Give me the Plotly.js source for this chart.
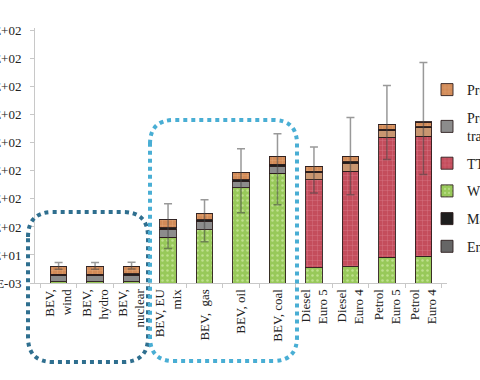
<!DOCTYPE html>
<html>
<head>
<meta charset="utf-8">
<script src="https://cdn.plot.ly/plotly-3.0.1.min.js"></script>
<style>html,body{margin:0;padding:0;background:#fff;}#chart{width:480px;height:380px;}</style>
</head>
<body>
<div id="chart"></div>
<script>
// ---- data ----
const categories = ['BEV wind', 'BEV hydro', 'BEV nuclear', 'BEV EU mix', 'BEV gas', 'BEV oil', 'BEV coal',
  'Diesel Euro 5', 'Diesel Euro 4', 'Petrol Euro 5', 'Petrol Euro 4'];
const tickLabels = ['BEV,<br>wind', 'BEV,<br>hydro', 'BEV,<br>nuclear', 'BEV, EU<br>mix', 'BEV,  gas', 'BEV, oil', 'BEV, coal',
  'Diesel<br>Euro 5', 'Diesel<br>Euro 4', 'Petrol<br>Euro 5', 'Petrol<br>Euro 4'];
const wtt        = [2, 2, 2.5, 82, 95, 170, 196, 27, 29, 46, 48];
const ttw        = [0, 0, 0, 0, 0, 0, 0, 157, 170, 214, 214];
const powertrain = [11, 11, 11, 14, 15, 11, 12, 13, 15, 12, 15];
const maintenance= [3, 3, 3, 3, 3, 3, 4, 2, 2, 2, 2];
const production = [13, 13, 13, 14, 11, 13, 14, 9, 9, 8, 8];
const energy     = [0.5, 0.5, 0.5, 0.5, 0.5, 0.5, 0.5, 0.5, 0.5, 0.5, 0.5];
const errPlus    = [7, 7, 7, 28, 24, 42, 40, 34, 70, 70, 106];
const errMinus   = [5, 5, 5, 52, 51, 72, 87, 48, 68, 62, 94];
const yTickVals  = [0, 50, 100, 150, 200, 250, 300, 350, 400, 450];
const yTickText  = ['1.00E-03', '5.00E+01', '1.00E+02', '1.50E+02', '2.00E+02', '2.50E+02', '3.00E+02', '3.50E+02', '4.00E+02', '4.50E+02'];
const seriesNames = ['Production', 'Production of power<br>train', 'TTW', 'WTT', 'Maintenance', 'Energy'];

// ---- styling ----
const outline = {color: 'rgba(45,30,30,0.9)', width: 1};
function barTrace(name, y, color, pattern, rank) {
  const t = {
    type: 'bar', name: name, x: categories, y: y,
    marker: {color: color, line: outline},
    legendrank: rank, legendgroup: 'g' + rank, hoverinfo: 'skip'
  };
  if (pattern) t.marker.pattern = pattern;
  return t;
}
const ptColors = categories.map(c => c.indexOf('BEV') === 0 ? '#8c8c8c' : '#c99670');
const traces = [
  barTrace(seriesNames[3], wtt, '#98c95a', {shape: '.', fgcolor: '#bfe08e', bgcolor: '#98c95a', size: 5, solidity: 0.2}, 4),
  barTrace(seriesNames[2], ttw, '#c44d5c', {shape: '+', fgcolor: '#d97c89', bgcolor: '#c44d5c', size: 5, solidity: 0.15}, 3),
  barTrace(seriesNames[1], powertrain, ptColors, null, 2),
  barTrace(seriesNames[4], maintenance, '#1e1e1e', null, 5),
  barTrace(seriesNames[0], production, '#d28b58', {shape: '+', fgcolor: '#e6a97c', bgcolor: '#d28b58', size: 5, solidity: 0.15}, 1),
  barTrace(seriesNames[5], energy, '#666666', null, 6)
];
const totals = categories.map((c, i) => wtt[i] + ttw[i] + powertrain[i] + maintenance[i] + production[i] + energy[i]);
traces.push({
  type: 'scatter', mode: 'markers', x: categories, y: totals,
  marker: {size: 1, opacity: 0}, showlegend: false, hoverinfo: 'skip',
  error_y: {type: 'data', symmetric: false, array: errPlus, arrayminus: errMinus,
            color: 'rgba(70,70,70,0.55)', thickness: 1.5, width: 4}
});

// plot-area pixel frame used to place the hand-drawn dotted groupings
const W = 480, H = 380, mL = 35, mR = 33, mT = 28, mB = 97;
const pw = W - mL - mR, ph = H - mT - mB;
const px = v => (v - mL) / pw, py = v => (H - mB - v) / ph;
function roundRect(L, R, T, B, r) {
  const rx = r / pw, ry = r / ph;
  const l = px(L), rr = px(R), t = py(T), b = py(B);
  return `M${l},${t - ry} Q${l},${t} ${l + rx},${t} L${rr - rx},${t} Q${rr},${t} ${rr},${t - ry} ` +
         `L${rr},${b + ry} Q${rr},${b} ${rr - rx},${b} L${l + rx},${b} Q${l},${b} ${l},${b + ry} Z`;
}
const shapes = [
  {type: 'path', xref: 'paper', yref: 'paper', path: roundRect(28, 148, 212, 362, 25),
   line: {color: '#2f6f8f', width: 4, dash: '4px,4px'}},
  {type: 'path', xref: 'paper', yref: 'paper', path: roundRect(150, 297, 120, 361, 24),
   line: {color: '#49aed4', width: 4, dash: '4px,4px'}}
];

const font = {family: '"Liberation Serif", "Times New Roman", serif', size: 13, color: '#222'};
const layout = {
  width: W, height: H,
  margin: {l: mL, r: mR, t: mT, b: mB, pad: 0, autoexpand: false},
  paper_bgcolor: '#fff', plot_bgcolor: '#fff',
  barmode: 'stack', bargap: 0.55,
  font: font,
  showlegend: true,
  legend: {xref: 'container', yref: 'container', x: 427 / W, xanchor: 'left', y: 1 - 74 / H, yanchor: 'top',
           traceorder: 'grouped', tracegroupgap: 6.5, font: {family: font.family, size: 14, color: '#222'},
           bgcolor: 'rgba(0,0,0,0)'},
  xaxis: {type: 'category', tickmode: 'array', tickvals: categories, ticktext: tickLabels,
          tickangle: -90, showgrid: false, zeroline: false, showline: true,
          linecolor: '#c8c8c8', linewidth: 1, ticks: 'outside', ticklen: 4, tickcolor: '#c8c8c8',
          tickson: 'boundaries', automargin: false, tickfont: {family: font.family, size: 13, color: '#222'}},
  yaxis: {range: [0, 455], tickmode: 'array', tickvals: yTickVals, ticktext: yTickText,
          showgrid: false, zeroline: false, showline: true, linecolor: '#c8c8c8', linewidth: 1,
          ticks: 'outside', ticklen: 4, tickcolor: '#c8c8c8', automargin: false, ticklabelstandoff: 6,
          tickfont: {family: font.family, size: 13, color: '#222'}},
  shapes: shapes
};
Plotly.newPlot('chart', traces, layout, {staticPlot: true, displayModeBar: false});
</script>
</body>
</html>
